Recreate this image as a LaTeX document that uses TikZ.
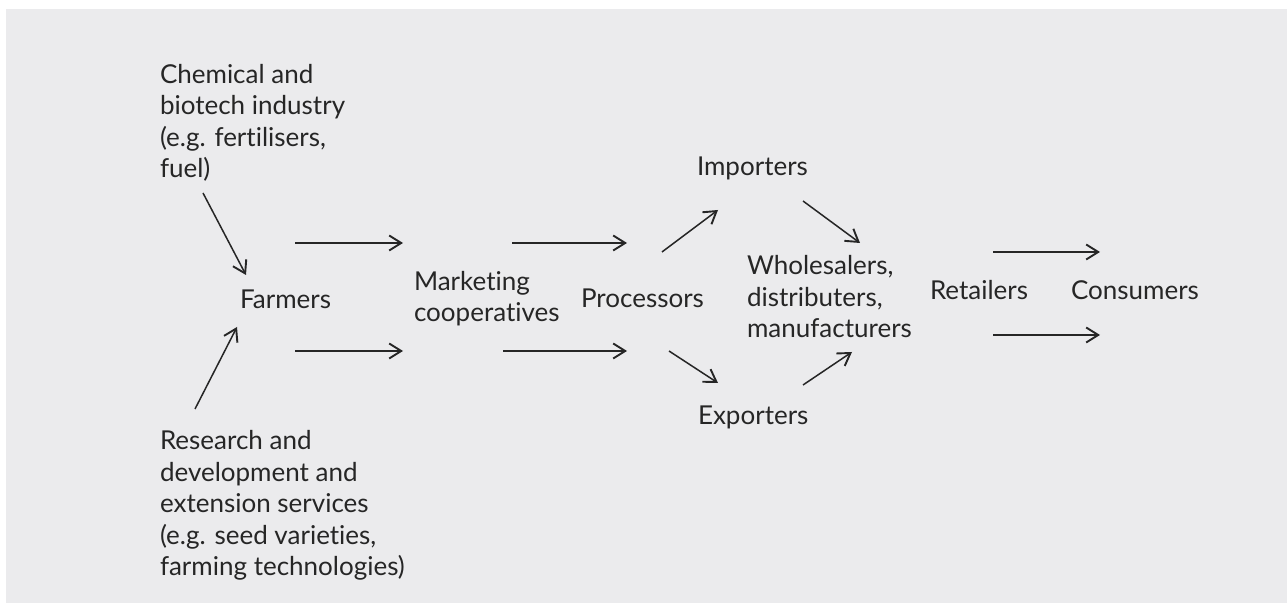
\documentclass[tikz,border=0pt]{standalone}
\usepackage{fontspec}
\setmainfont{Lato}[Ligatures=NoCommon]
\usetikzlibrary{arrows.meta,calc}
\definecolor{bggray}{RGB}{235,235,237}
\definecolor{inkc}{RGB}{38,38,38}
\tikzset{
  lbl/.style={inner sep=0pt, outer sep=0pt, anchor=base west, align=left, text=inkc,
    font=\fontsize{13pt}{15.75pt}\selectfont},
  arr/.style={draw=inkc, line width=0.75pt, -{Straight Barb[length=6pt,width=7.5pt,line width=0.95pt]}}
}
\begin{document}
\begin{tikzpicture}[x=0.5pt,y=-0.5pt]
\useasboundingbox (0,0) rectangle (1287,603);
\fill[bggray] (6,9) rectangle (1287,603);

% base anchor = baseline of the last line
\node[lbl] (chem) at (160,178) {Chemical and\\biotech industry\\(e.g. fertilisers,\\fuel)};
\node[lbl] (res) at (160,576) {Research and\\development and\\extension services\\(e.g. seed varieties,\\farming technologies)};
\node[lbl] (farm) at (240,309) {Farmers};
\node[lbl] (mkt) at (414,322) {Marketing\\cooperatives};
\node[lbl] (proc) at (581,308) {Processors};
\node[lbl] (imp) at (697,176) {Importers};
\node[lbl] (exp) at (698,425) {Exporters};
\node[lbl] (whole) at (747,338) {Wholesalers,\\distributers,\\manufacturers};
\node[lbl] (ret) at (930,300) {Retailers};
\node[lbl] (cons) at (1071,300) {Consumers};

\draw[arr] ($(chem.base west)+(43,15)$) -- ($(farm.base west)+(6,-34)$);
\draw[arr] ($(res.base west)+(35,-167)$) -- ($(farm.base west)+(-3,18)$);
\draw[arr] ($(farm.base west)+(55,-66)$) -- ($(mkt.base west)+(-11,-79)$);
\draw[arr] ($(farm.base west)+(55,42)$) -- ($(mkt.base west)+(-11,29)$);
\draw[arr] ($(mkt.base west)+(98,-79)$) -- ($(proc.base west)+(46,-65)$);
\draw[arr] ($(mkt.base west)+(89,29)$) -- ($(proc.base west)+(46,43)$);
\draw[arr] ($(proc.base west)+(81,-56)$) -- ($(imp.base west)+(21,34)$);
\draw[arr] ($(imp.base west)+(106,25)$) -- ($(whole.base west)+(113,-95)$);
\draw[arr] ($(proc.base west)+(88,43)$) -- ($(exp.base west)+(20,-42)$);
\draw[arr] ($(exp.base west)+(105,-40)$) -- ($(whole.base west)+(105,14)$);
\draw[arr] ($(ret.base west)+(63,-48)$) -- ($(cons.base west)+(29,-48)$);
\draw[arr] ($(ret.base west)+(63,35)$) -- ($(cons.base west)+(29,35)$);
\end{tikzpicture}
\end{document}
